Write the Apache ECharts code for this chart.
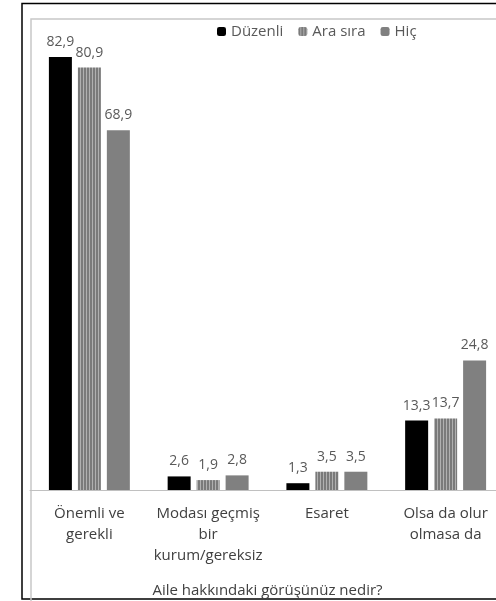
<!DOCTYPE html>
<html>
<head>
<meta charset="utf-8">
<script src="https://cdn.jsdelivr.net/npm/echarts@6/dist/echarts.min.js"></script>
<style>
html,body{margin:0;padding:0;background:#fff;}
#chart{width:496px;height:601px;}
</style>
</head>
<body>
<div id="chart"></div>
<script>
const categories = ['Önemli ve\ngerekli', 'Modası geçmiş\nbir\nkurum/gereksiz', 'Esaret', 'Olsa da olur\nolmasa da'];
const seriesNames = ['Düzenli', 'Ara sıra', 'Hiç'];
const duzenli = [82.9, 2.6, 1.3, 13.3];
const araSira = [80.9, 1.9, 3.5, 13.7];
const hic = [68.9, 2.8, 3.5, 24.8];
const axisTitle = 'Aile hakkındaki görüşünüz nedir?';

function stripePattern() {
  const c = document.createElement('canvas');
  c.width = 3; c.height = 4;
  const ctx = c.getContext('2d');
  ctx.fillStyle = '#7a7a7a'; ctx.fillRect(0,0,3,4);
  ctx.fillStyle = '#b0b0b0'; ctx.fillRect(2,0,1,4);
  return {image: c, repeat: 'repeat'};
}

const font = '"Open Sans", sans-serif';
const labelOpt = {
  show: true, position: 'top', distance: 8, color: '#595959', fontSize: 14, fontFamily: font,
  formatter: p => String(p.value).replace('.', ',')
};

const chart = echarts.init(document.getElementById('chart'), null, {renderer: 'canvas'});
chart.setOption({
  animation: false,
  backgroundColor: '#fff',
  graphic: [
    {type: 'rect', shape: {x: 22, y: 3.5, width: 520, height: 595.5}, style: {fill: 'none', stroke: '#000', lineWidth: 1.5}, z: -1},
    {type: 'rect', shape: {x: 31, y: 19, width: 520, height: 620}, style: {fill: 'none', stroke: '#c8c8c8', lineWidth: 1.5}, z: -1}
  ],
  legend: {
    left: 212, top: 19, itemWidth: 9, itemHeight: 9, itemGap: 15,
    textStyle: {color: '#595959', fontSize: 15, fontFamily: font},
    data: seriesNames
  },
  grid: {left: 30, width: 475, top: 20, bottom: 111, containLabel: false, outerBoundsMode: 'none'},
  xAxis: {
    type: 'category', data: categories,
    axisLine: {lineStyle: {color: '#c0c0c0', width: 1}},
    axisTick: {show: false},
    axisLabel: {color: '#404040', fontSize: 15, fontFamily: font, lineHeight: 21, margin: 13, interval: 0},
    name: axisTitle, nameLocation: 'middle', nameGap: 93,
    nameTextStyle: {color: '#404040', fontSize: 15, fontFamily: font}
  },
  yAxis: {type: 'value', min: 0, max: 90, show: false, splitLine: {show: false}},
  series: [
    {name: seriesNames[0], type: 'bar', data: duzenli, barWidth: 23, barGap: '26%', itemStyle: {color: '#000'}, label: labelOpt},
    {name: seriesNames[1], type: 'bar', data: araSira, barWidth: 23, barGap: '26%', itemStyle: {color: stripePattern()}, label: labelOpt},
    {name: seriesNames[2], type: 'bar', data: hic, barWidth: 23, barGap: '26%', itemStyle: {color: '#808080'}, label: labelOpt}
  ]
});
</script>
</body>
</html>
